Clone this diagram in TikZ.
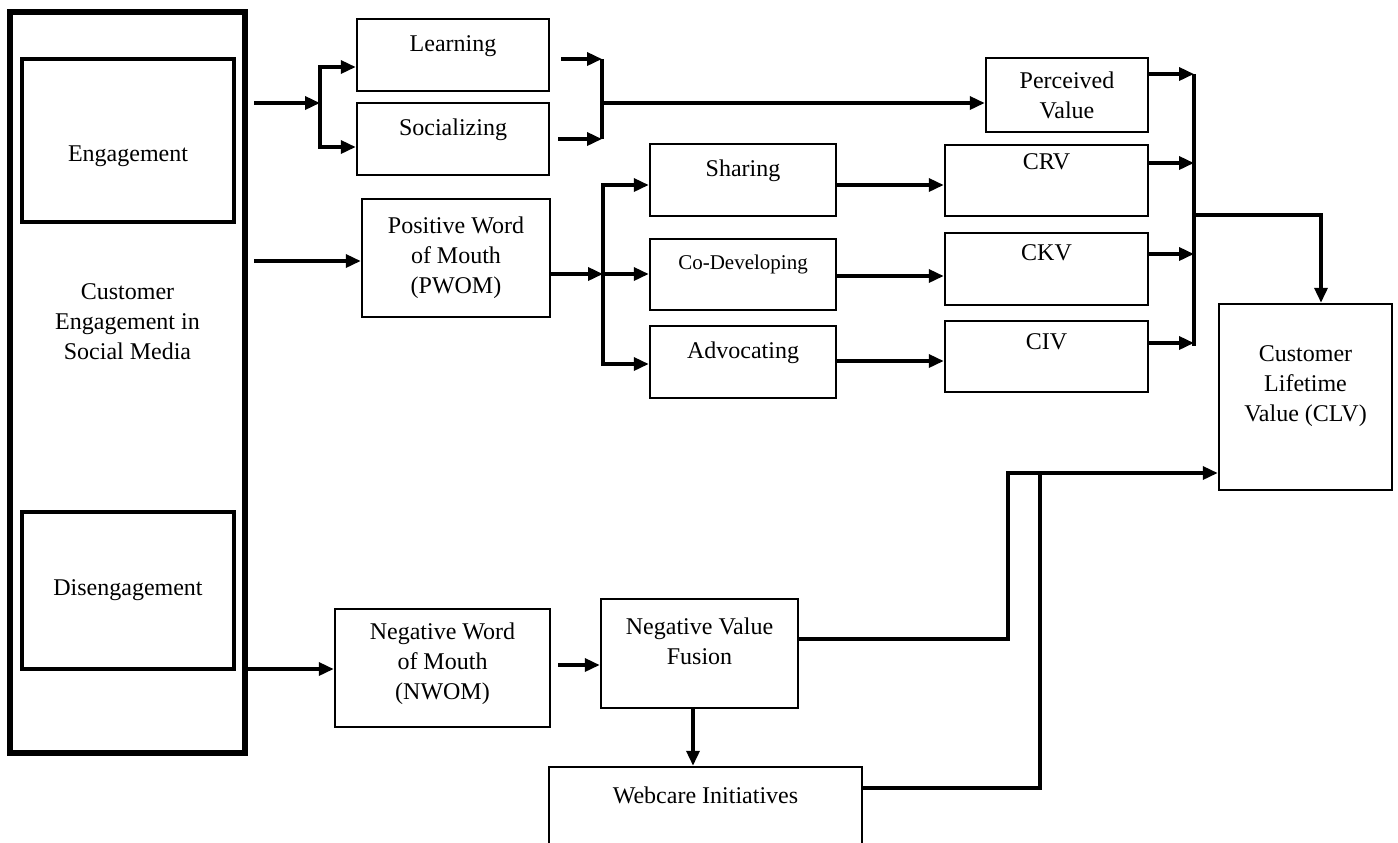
\documentclass[tikz,border=0pt]{standalone}
\usepackage{fontspec}
\setmainfont{Liberation Serif}
\usetikzlibrary{arrows.meta}

\begin{document}
\begin{tikzpicture}[x=0.5pt,y=-0.5pt,
    txt/.style={align=center, inner sep=0pt, font=\fontsize{12}{15}\selectfont},
    box/.style={txt, draw, line width=1.25pt},
    lift/.style={text height=8.5pt, text depth=#1},
    arr/.style={line width=1.75pt, -{Triangle[length=7.5pt,width=6.5pt]}},
    bar/.style={line width=1.75pt}]
    \useasboundingbox (0,0) rectangle (1398,842);
    \clip (0,0) rectangle (1398,842);

    % left block
    \node[draw, line width=3pt, minimum width=117.5pt, minimum height=370.5pt] (cesm) at (127.5,382.5) {};
    \node[box, line width=1.75pt, minimum width=106pt, minimum height=81.5pt, text height=23pt, text depth=2.5pt] (engage) at (128,140.5) {Engagement};
    \node[box, line width=1.75pt, minimum width=106pt, minimum height=78.5pt] (diseng) at (128,590.5) {Disengagement};
    \node[txt] (cesmtxt) at (127.5,322) {Customer\\Engagement in\\Social Media};

    % boxes
    \node[box, lift=12.5pt, minimum width=96pt, minimum height=36pt] (learn) at (453,55) {Learning};
    \node[box, lift=12.5pt, minimum width=96pt, minimum height=36pt] (social) at (453,139) {Socializing};
    \node[box, minimum width=94pt, minimum height=59pt] (pwom) at (456,258) {Positive Word\\of Mouth\\(PWOM)};
    \node[box, minimum width=81pt, minimum height=37pt] (pv) at (1067,95) {Perceived\\Value};
    \node[box, lift=12.5pt, minimum width=93pt, minimum height=36pt] (share) at (743,180) {Sharing};
    \node[box, lift=13.5pt, minimum width=93pt, minimum height=35.5pt, font=\fontsize{10.5}{13}\selectfont] (codev) at (743,274.5) {Co-Developing};
    \node[box, lift=12.5pt, minimum width=93pt, minimum height=36pt] (advoc) at (743,362) {Advocating};
    \node[box, lift=19.5pt, minimum width=101.5pt, minimum height=35.5pt] (crv) at (1046.5,180.5) {CRV};
    \node[box, lift=17.5pt, minimum width=101.5pt, minimum height=36pt] (ckv) at (1046.5,269) {CKV};
    \node[box, lift=15.5pt, minimum width=101.5pt, minimum height=35.5pt] (civ) at (1046.5,356.5) {CIV};
    \node[box, text depth=13.5pt, minimum width=86.5pt, minimum height=93pt] (clv) at (1305.5,397) {Customer\\Lifetime\\Value (CLV)};
    \node[box, text depth=6.5pt, minimum width=107.5pt, minimum height=59pt] (nwom) at (442.5,668) {Negative Word\\of Mouth\\(NWOM)};
    \node[box, text depth=12.5pt, minimum width=98.5pt, minimum height=54.5pt] (nvf) at (699.5,653.5) {Negative Value\\Fusion};
    \node[box, lift=25.5pt, minimum width=156.5pt, minimum height=53pt] (web) at (705.5,820) {Webcare Initiatives};

    % engagement to learning and socializing
    \coordinate (e1) at (254,103);
    \coordinate (j1) at (320,103);
    \draw[arr] (e1) -- (j1);
    \draw[arr] (j1) |- (learn.west |- 0,67);
    \draw[arr] (j1) |- (social.west |- 0,147);

    \coordinate (l1) at (561,59);
    \coordinate (s1) at (558,139);
    \coordinate (m1) at (602,103);
    \draw[arr] (l1) -- (l1 -| m1);
    \draw[arr] (s1) -- (s1 -| m1);
    \draw[bar] (m1 |- 0,59) -- (m1 |- 0,139);
    \draw[arr] (m1) -- (pv.west |- m1);

    % positive word of mouth
    \coordinate (p0) at (254,261);
    \coordinate (j2) at (603,274);
    \draw[arr] (p0) -- (pwom.west |- p0);
    \draw[arr] (pwom.east |- j2) -- (j2);
    \draw[arr] (j2) |- (share.west |- 0,185);
    \draw[arr] (j2) -- (codev.west |- j2);
    \draw[arr] (j2) |- (advoc.west |- 0,364);

    \draw[arr] (share.east |- 0,185) -- (crv.west |- 0,185);
    \draw[arr] (codev.east |- 0,276) -- (ckv.west |- 0,276);
    \draw[arr] (advoc.east |- 0,361) -- (civ.west |- 0,361);

    % values into CLV
    \coordinate (j3) at (1194,215);
    \foreach \n/\y in {pv/74, crv/163, ckv/254, civ/343}
        \draw[arr] (\n.east |- 0,\y) -- (j3 |- 0,\y);
    \draw[bar] (j3 |- 0,74) -- (j3 |- 0,346);
    \draw[arr] (j3) -| (clv.north -| 1321,0);

    % negative word of mouth
    \draw[arr] (cesm.east |- 0,669) -- (nwom.west |- 0,669);
    \coordinate (n1) at (558,665);
    \draw[arr] (n1) -- (nvf.west |- n1);
    \draw[arr] (nvf.south -| 693,0) -- (web.north -| 693,0);
    \coordinate (k1) at (1008,473);
    \coordinate (k2) at (1040,473);
    \draw[arr] (nvf.east |- 0,639) -| (k1) -- (clv.west |- k1);
    \draw[bar] (web.east |- 0,788) -| (k2);
\end{tikzpicture}
\end{document}
